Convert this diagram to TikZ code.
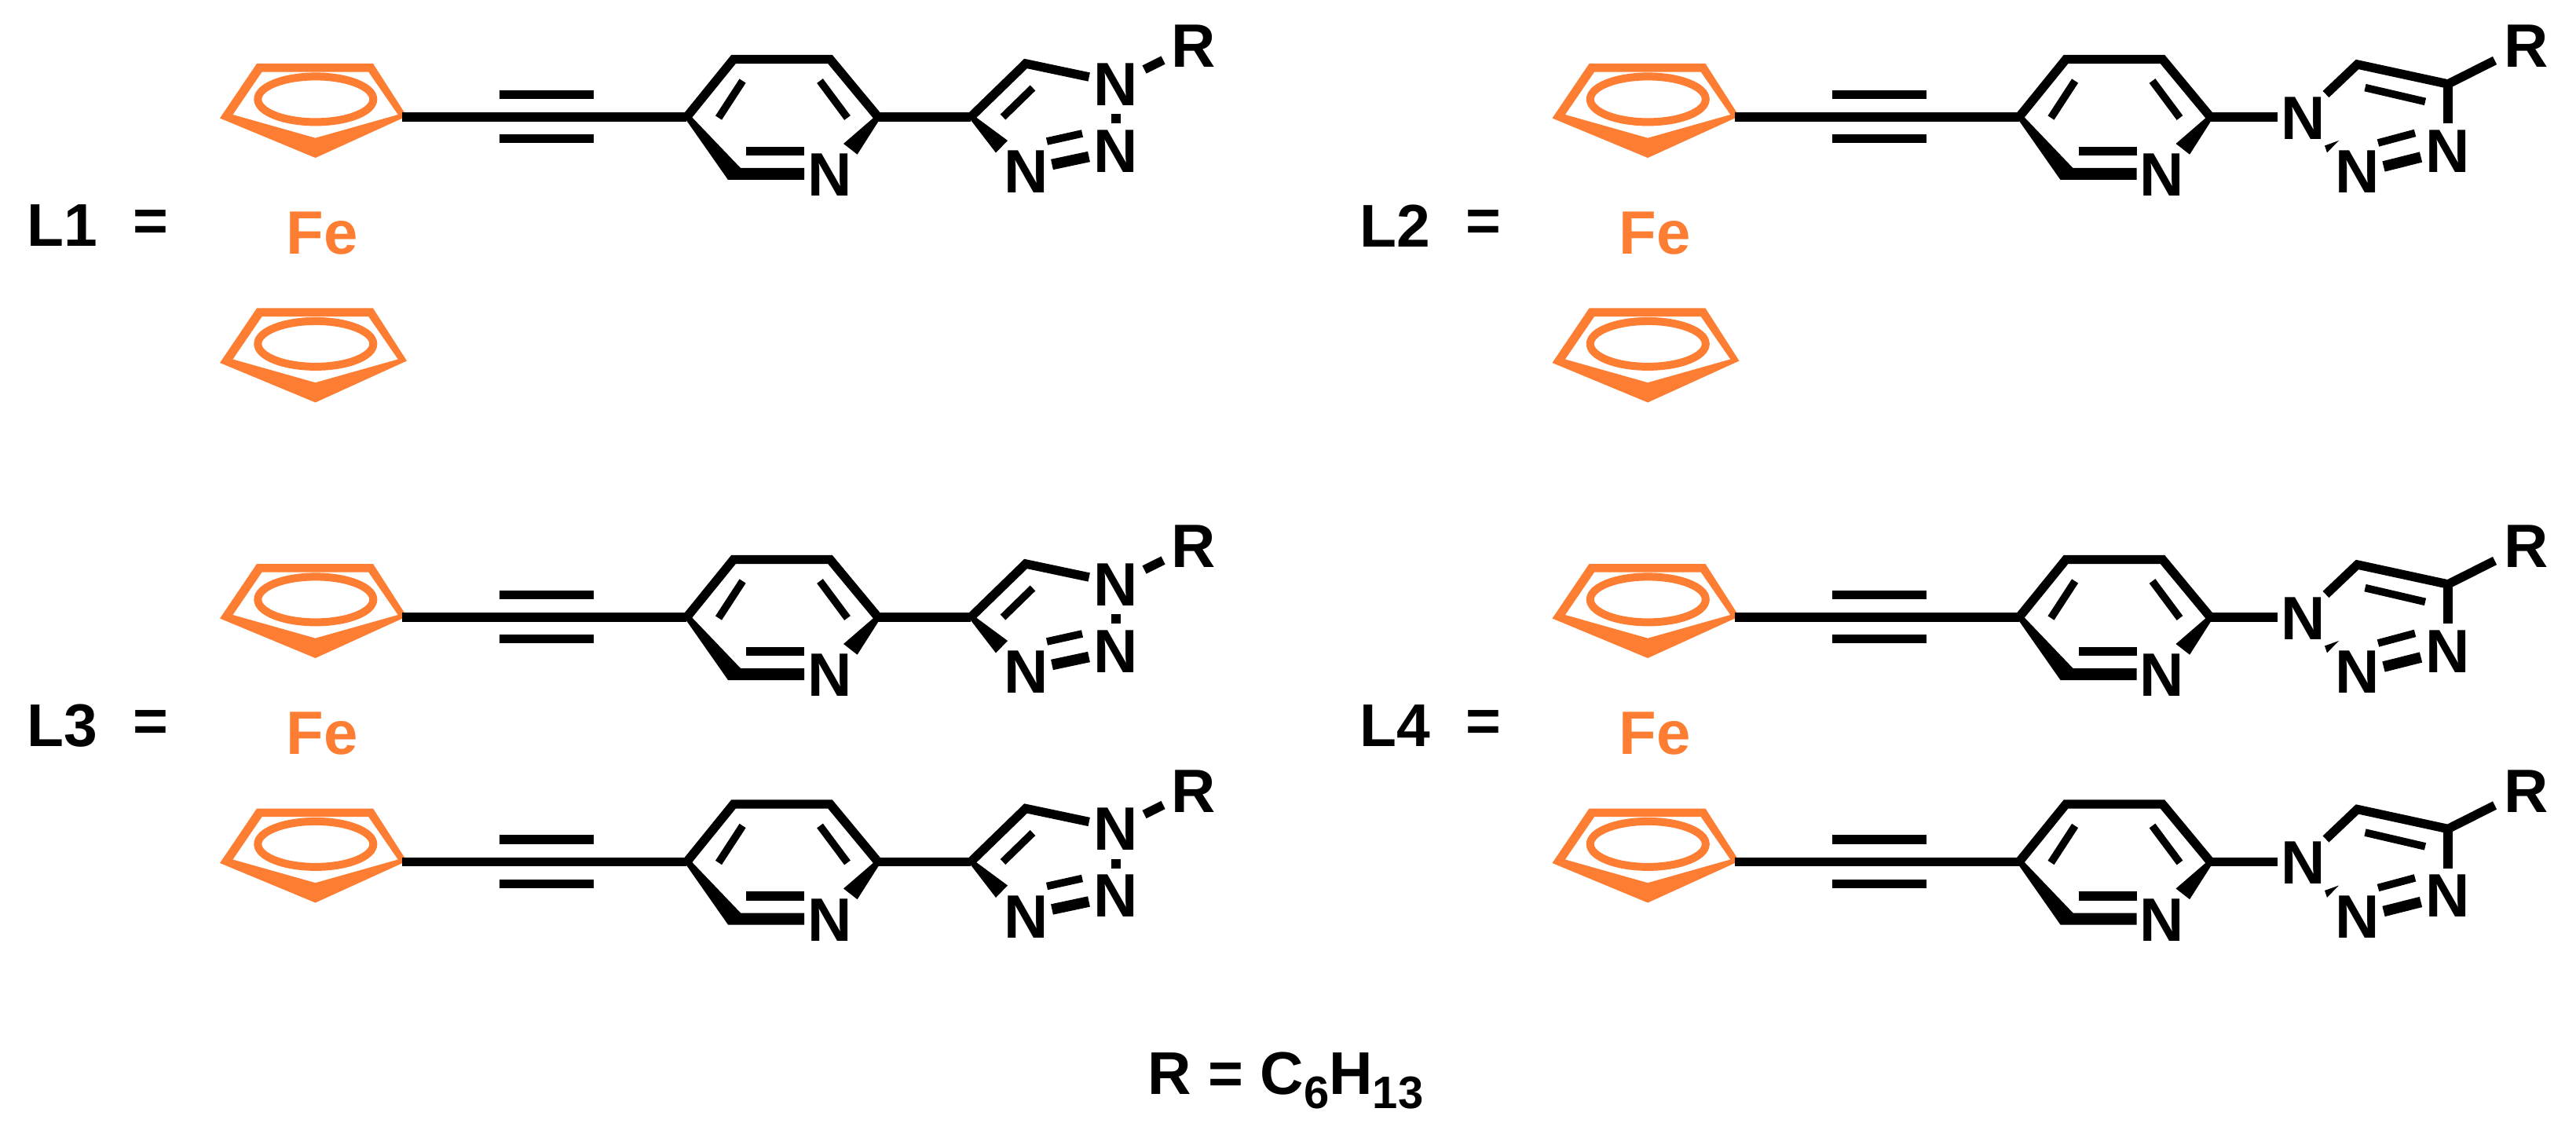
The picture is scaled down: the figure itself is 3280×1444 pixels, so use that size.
\documentclass[tikz,border=0pt]{standalone}
\usepackage{fontspec}
\setmainfont{Liberation Sans}
\definecolor{feOrange}{HTML}{FD7E33}
\tikzset{
  bond/.style={line width=2.85pt},
  thinBond/.style={line width=2.4pt},
  boldBond/.style={line width=3.4pt},
  atom/.style={font=\fontsize{19.5}{19.5}\selectfont\bfseries, inner sep=0pt},
  label/.style={font=\fontsize{19.2}{19.2}\selectfont\bfseries, inner sep=0pt},
}
\begin{document}
\begin{tikzpicture}[x=0.25pt,y=-0.25pt]
    \newcommand{\cpRing}{
        \fill[feOrange, even odd rule] (280,1.5) -- (327,-68) -- (475,-68) -- (518,-1) -- (401.6,52) -- cycle
            (296.4,-3) -- (333.5,-57.3) -- (469.3,-57.3) -- (506.8,-3) -- (401.6,26.7) -- cycle;
        \draw[feOrange, line width=2.5pt] (401.8,-22.6) ellipse (73.5 and 29);
    }
    \newcommand{\pyridineArm}{
        \coordinate (cpR) at (512,0);
        \coordinate (pyL) at (874.4,0);
        \coordinate (pyTL) at (934,-73.5);
        \coordinate (pyTR) at (1057,-73.5);
        \coordinate (pyR) at (1118,0);
        \draw[bond] (cpR) -- (pyL);
        \draw[bond] (636,-28.4) -- (756,-28.4);
        \draw[bond] (636,27.7) -- (756,27.7);
        \draw[bond, miter limit=4] (pyL) -- (pyTL) -- (pyTR) -- (pyR);
        \draw[thinBond] (945.6,-46) -- (915,1);
        \draw[thinBond] (1044,-46) -- (1079,1);
        \fill (871,0) -- (877,-4) -- (943,65) -- (1024,65) -- (1024,80) -- (927,80) -- cycle;
        \draw[bond] (950,43.6) -- (1024,43.6);
        \fill (1118,-4) -- (1122,0) -- (1091.6,47.7) -- (1074,34) -- cycle;
        \node[atom] (pyN) at (1056.5,74) {N};
    }
    \newcommand{\triazoleA}{
        \coordinate (tzC) at (1236,0);
        \coordinate (tzCH) at (1306,-68);
        \coordinate (tzEnd) at (1386.7,-51);
        \draw[bond] (pyR) -- (tzC);
        \draw[bond, line join=miter] (tzC) -- (tzCH) -- (tzEnd);
        \draw[thinBond] (1277,0) -- (1315,-37);
        \fill (1233,0) -- (1237,-4) -- (1283,30) -- (1268,45.5) -- cycle;
        \node[atom] (tzNa) at (1421,-41.5) {N};
        \node[atom] (tzNb) at (1421,43.5) {N};
        \node[atom] (tzNc) at (1307,70) {N};
        \node[atom] (tzR) at (1520,-90) {R};
        \draw[line width=3pt] (1421,-4) -- (1421,8);
        \draw[thinBond] (1333,31) -- (1378,21);
        \draw[boldBond] (1339.5,60.5) -- (1386.5,50.5);
        \draw[bond] (1457,-60.5) -- (1481,-72.5);
    }
    \newcommand{\triazoleB}{
        \coordinate (tzCH) at (1305,-67);
        \coordinate (tzC) at (1420.5,-42);
        \draw[bond] (pyR) -- (1203.5,0);
        \draw[bond, line join=miter] (1265,-29) -- (tzCH) -- (tzC) -- (1480,-72);
        \draw[bond] (tzC) -- (1420.5,8);
        \draw[thinBond] (1315,-37.4) -- (1391.5,-19.6);
        \fill (1263.5,36.5) -- (1281.5,30) -- (1266.5,45.4) -- cycle;
        \node[atom] (tzNa) at (1236,1.5) {N};
        \node[atom] (tzNb) at (1420.5,43.5) {N};
        \node[atom] (tzNc) at (1305.5,70) {N};
        \node[atom] (tzR) at (1520.5,-90) {R};
        \draw[thinBond] (1331.5,33) -- (1378.5,20.4);
        \draw[boldBond] (1338.5,63) -- (1386,51);
    }
    \useasboundingbox (0,0) rectangle (3280,1444);

    % L1
    \begin{scope}[shift={(0,149)},name prefix=topA-]
        \cpRing \pyridineArm \triazoleA
        \node[atom, feOrange] (fe) at (410.5,148) {Fe};
        \node[label, anchor=west] (name) at (34,138.5) {L1};
        \node[label] (eq) at (192,138.5) {=};
    \end{scope}
    \begin{scope}[shift={(0,460.5)},name prefix=topB-]
        \cpRing
    \end{scope}

    % L2
    \begin{scope}[shift={(1696.5,149)},name prefix=topC-]
        \cpRing \pyridineArm \triazoleB
        \node[atom, feOrange] (fe) at (410.5,148) {Fe};
        \node[label, anchor=west] (name) at (34,138.5) {L2};
        \node[label] (eq) at (192,138.5) {=};
    \end{scope}
    \begin{scope}[shift={(1696.5,460.5)},name prefix=topD-]
        \cpRing
    \end{scope}

    % L3
    \begin{scope}[shift={(0,786)},name prefix=lowA-]
        \cpRing \pyridineArm \triazoleA
        \node[atom, feOrange] (fe) at (410.5,148) {Fe};
        \node[label, anchor=west] (name) at (34,138.5) {L3};
        \node[label] (eq) at (192,138.5) {=};
    \end{scope}
    \begin{scope}[shift={(0,1097.5)},name prefix=lowB-]
        \cpRing \pyridineArm \triazoleA
    \end{scope}

    % L4
    \begin{scope}[shift={(1696.5,786)},name prefix=lowC-]
        \cpRing \pyridineArm \triazoleB
        \node[atom, feOrange] (fe) at (410.5,148) {Fe};
        \node[label, anchor=west] (name) at (34,138.5) {L4};
        \node[label] (eq) at (192,138.5) {=};
    \end{scope}
    \begin{scope}[shift={(1696.5,1097.5)},name prefix=lowD-]
        \cpRing \pyridineArm \triazoleB
    \end{scope}

    \node[label, anchor=base west] (rDef) at (1461,1393) {R = C\raisebox{-4.5pt}{\fontsize{14.5}{14.5}\selectfont 6}H\raisebox{-4.5pt}{\fontsize{14.5}{14.5}\selectfont 13}};
\end{tikzpicture}
\end{document}
